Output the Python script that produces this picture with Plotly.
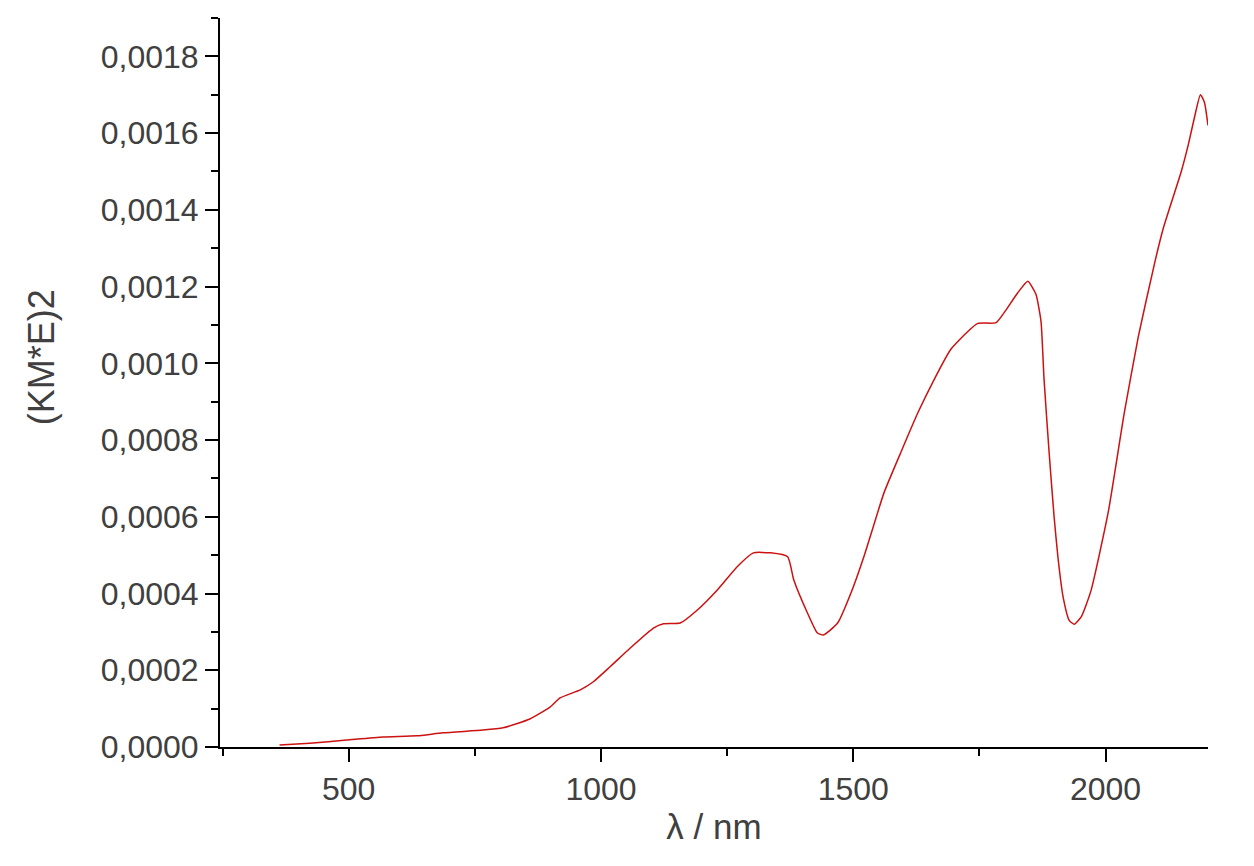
import plotly.graph_objects as go

# spectrum (wavelength in nm, (KM*E)^2)
wavelength = [363, 423, 496, 568, 635, 687, 766, 806, 859, 899, 919, 959, 985,
              1018, 1058, 1104, 1124, 1157, 1191, 1231, 1270, 1302, 1336, 1370,
              1382, 1409, 1429, 1441, 1469, 1495, 1521, 1541, 1561, 1594, 1628,
              1660, 1693, 1727, 1747, 1783, 1799, 1826, 1846, 1862, 1872,
              1878, 1888, 1898, 1906, 1916, 1928, 1938, 1952, 1971,
              2005, 2037, 2065, 2097, 2114, 2150, 2164, 2176, 2188, 2196, 2203]
km_e2 = [0.000005, 0.000010, 0.000018, 0.000026, 0.000029, 0.000037, 0.000044,
         0.000050, 0.000073, 0.000104, 0.000128, 0.000149, 0.000170, 0.000209,
         0.000258, 0.000310, 0.000321, 0.000323, 0.000357, 0.000410, 0.000470,
         0.000506, 0.000506, 0.000496, 0.000436, 0.000350, 0.000297, 0.000292,
         0.000323, 0.000400, 0.000496, 0.000580, 0.000663, 0.000767, 0.000871,
         0.000957, 0.001036, 0.001083, 0.001104, 0.001106, 0.001132, 0.001184,
         0.001214, 0.001180, 0.001110,
         0.000960, 0.000770, 0.000600, 0.000490, 0.000390, 0.000330, 0.000320,
         0.000340, 0.000407,
         0.000610, 0.000870, 0.001070, 0.001260, 0.001350, 0.001500, 0.001570,
         0.001640, 0.001700, 0.001680, 0.001620]

x_ticks = [500, 1000, 1500, 2000]
y_ticks = [0.0, 0.0002, 0.0004, 0.0006, 0.0008, 0.0010, 0.0012, 0.0014, 0.0016, 0.0018]
y_labels = ["0,0000", "0,0002", "0,0004", "0,0006", "0,0008", "0,0010",
            "0,0012", "0,0014", "0,0016", "0,0018"]

fig = go.Figure()
fig.add_trace(go.Scatter(x=wavelength, y=km_e2, mode="lines",
                         line=dict(color="#cc1111", width=1.5, shape="spline", smoothing=0.5),
                         showlegend=False))

font = "Liberation Sans, Arial, sans-serif"
# page body adds 8px, margins compensate
fig.update_layout(
    width=1254, height=866,
    margin=dict(l=212, r=54, t=10, b=127),
    plot_bgcolor="white", paper_bgcolor="white",
    font=dict(family=font, size=32, color="#404040"),
)
fig.update_xaxes(
    range=[245, 2203], tickvals=x_ticks, showgrid=False, zeroline=False,
    showline=True, linecolor="black", linewidth=2,
    ticks="outside", ticklen=13, tickwidth=2, tickcolor="black",
    minor=dict(dtick=250, tick0=0, ticks="outside", ticklen=7, tickwidth=2, tickcolor="black"),
    title=dict(text="λ / nm", font=dict(size=35, color="#404040"), standoff=8),
)
fig.update_yaxes(
    range=[0, 0.0019], tickvals=y_ticks, ticktext=y_labels, showgrid=False, zeroline=False,
    showline=True, linecolor="black", linewidth=2,
    ticks="outside", ticklen=13, tickwidth=2, tickcolor="black",
    minor=dict(dtick=0.0001, tick0=0, ticks="outside", ticklen=7, tickwidth=2, tickcolor="black"),
)

# y title sits a bit above the axis middle in the reference
fig.add_annotation(text="(KM*E)2", textangle=-90, xref="paper", yref="paper",
                   x=-0.180, y=0.535, xanchor="center", yanchor="middle",
                   showarrow=False, font=dict(size=36, color="#404040"))

fig.write_html("out.html")
